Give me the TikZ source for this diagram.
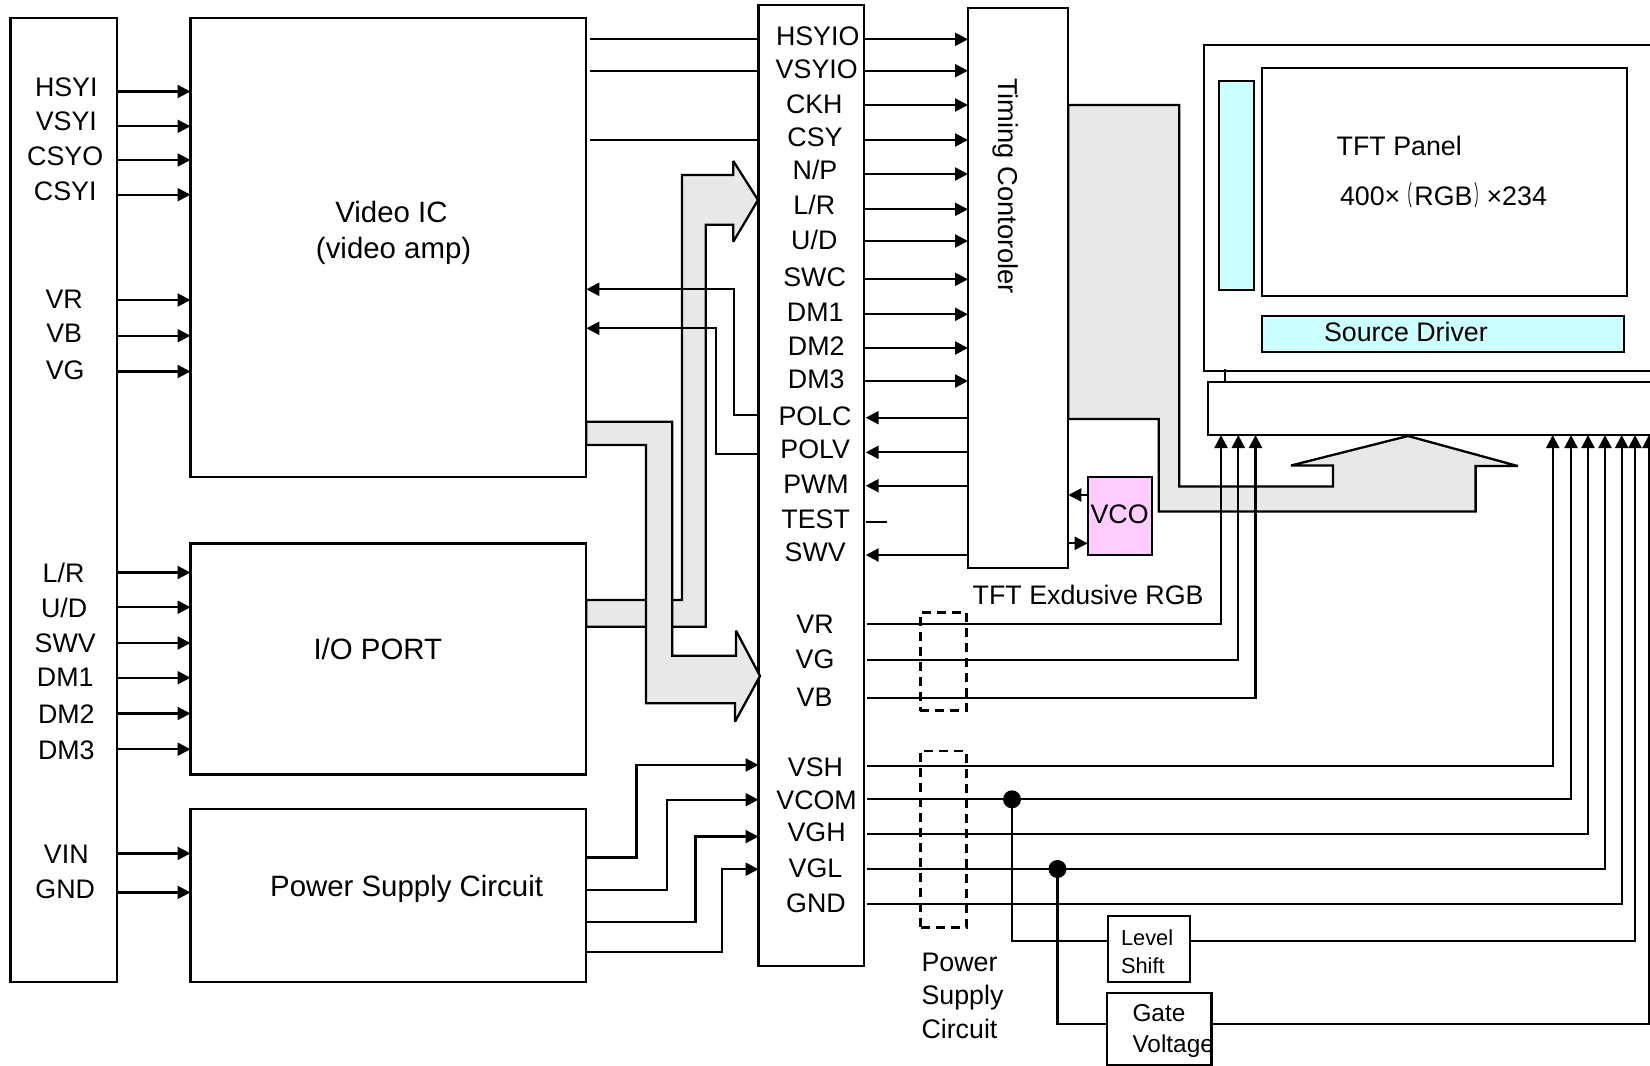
\documentclass[tikz,border=0pt]{standalone}
\usepackage{graphicx}
\usepackage{fontspec}
\setmainfont{Liberation Sans}
\newfontfamily\cjkfont{Noto Sans CJK SC}
\usetikzlibrary{arrows.meta}
\definecolor{grayarrow}{HTML}{E8E8E8}
\definecolor{cyanfill}{HTML}{CCFFFF}
\definecolor{pinkfill}{HTML}{FFCCFF}
\tikzset{
  line width=2.3pt,
  wire/.style={draw=black,line width=2.3pt},
  arr/.style={wire,-{Triangle[length=13pt,width=13pt]}},
  blockbox/.style={draw=black,fill=white,line width=2.3pt,inner sep=0pt,outer sep=0pt},
  dashbox/.style={draw=black,line width=2.5pt,inner sep=0pt,outer sep=0pt,dash pattern=on 9pt off 6pt},
  fat/.style={draw=black,fill=grayarrow,line width=2.3pt,line join=miter,miter limit=3},
  dotnode/.style={circle,fill=black,draw=none,minimum size=18pt,inner sep=0pt,outer sep=0pt},
  lbl/.style={inner sep=0pt,outer sep=0pt,font=\fontsize{26.8}{30}\selectfont,text height=19.1pt,text depth=0pt},
  biglbl/.style={inner sep=0pt,outer sep=0pt,font=\fontsize{29.4}{32}\selectfont,text height=21.2pt,text depth=0pt},
  midlbl/.style={inner sep=0pt,outer sep=0pt,font=\fontsize{24.4}{28}\selectfont,text height=17.5pt,text depth=0pt},
  smalllbl/.style={inner sep=0pt,outer sep=0pt,font=\fontsize{21.8}{26}\selectfont,text height=15.6pt,text depth=0pt},
}
\newcommand{\mkbox}[6]{%
  \pgfmathsetmacro\bw{#5-#3}\pgfmathsetmacro\bh{#6-#4}%
  \pgfmathsetmacro\bx{(#3+#5)/2}\pgfmathsetmacro\by{(#4+#6)/2}%
  \node[#1,minimum width=\bw pt,minimum height=\bh pt] (#2) at (\bx,\by) {};}
\newcommand{\lab}[4]{\node[lbl] (#1) at (#2,#3) {#4};}
\newcommand{\slimparen}[1]{\scalebox{0.45}[1]{\cjkfont #1}}
\begin{document}
\begin{tikzpicture}[x=1pt,y=-1pt]
\useasboundingbox (0,0) rectangle (1650,1066);
\fill[white] (0,0) rectangle (1650,1066);
\clip (0,0) rectangle (1650,1066);

% blocks
\mkbox{blockbox}{lbox}{10.5}{18}{117}{982}
\mkbox{blockbox}{vic}{190.5}{18}{586.3}{477}
\mkbox{blockbox}{iop}{190.5}{543.5}{586.3}{774.5}
\mkbox{blockbox}{psu}{190.5}{809}{586.3}{982}
\mkbox{blockbox}{mid}{758.5}{4.7}{863.7}{966}
\mkbox{blockbox}{tim}{968}{8.3}{1068.3}{568.3}
\mkbox{blockbox}{outer}{1204}{44.7}{1670}{371}
\mkbox{blockbox}{panel}{1261.7}{68.3}{1627.3}{295.7}
\mkbox{blockbox,fill=cyanfill}{gdrv}{1219.3}{81.3}{1253.7}{289.7}
\mkbox{blockbox,fill=cyanfill}{sdrv}{1261.7}{316}{1624.3}{351.7}
\mkbox{blockbox}{drv}{1207.7}{382.3}{1670}{435}
\mkbox{blockbox,fill=pinkfill}{vco}{1087.7}{477.3}{1152}{555.3}
\draw[wire] (outer.south -| 1225,0) -- ++(0,-2) (outer.south -| 1225,0) -- (drv.north -| 1225,0);

% wide grey arrows
\draw[fat] (iop.east |- 0,600) -- (682,600) -- (682,175) -- (733.3,175) -- (733.3,161) -- (758,200) -- (733.3,241.7) -- (733.3,224.7) -- (705.7,224.7) -- (705.7,626.7) -- (iop.east |- 0,626.7) -- cycle;
\draw[fat] (vic.east |- 0,421.7) -- (672.3,421.7) -- (672.3,655.7) -- (736,655.7) -- (736,630.7) -- (760,676) -- (735,721.7) -- (735,703.3) -- (646,703.3) -- (646,445) -- (vic.east |- 0,445) -- cycle;
\draw[fat] (tim.east |- 0,105) -- (1179.3,105) -- (1179.3,486.5) -- (1333,486.5) -- (1333,465.5) -- (1291,465.5) -- (1408,436) -- (1517.7,466) -- (1475.6,466) -- (1475.6,511.5) -- (1158.7,511.5) -- (1158.7,419) -- (tim.east |- 0,419) -- cycle;

% left connector inputs
\foreach \y in {91.5,126.3,160,194.7,300,335.7,371.5}
  \draw[arr] (lbox.east |- 0,\y) -- (vic.west |- 0,\y);
\foreach \y in {572.5,607.2,643,677.7,713.5,749.2}
  \draw[arr] (lbox.east |- 0,\y) -- (iop.west |- 0,\y);
\foreach \y in {853.4,892.4}
  \draw[arr] (lbox.east |- 0,\y) -- (psu.west |- 0,\y);

% video to centre
\foreach \y in {39.3,70.7,140}
  \draw[wire] ([xshift=4pt]vic.east |- 0,\y) -- (mid.west |- 0,\y);
\draw[arr] (mid.west |- 0,415.3) -- (734,415.3) -- (734,289.3) -- (vic.east |- 0,289.3);
\draw[arr] (mid.west |- 0,454) -- (715.7,454) -- (715.7,328.3) -- (vic.east |- 0,328.3);

% centre to timing
\foreach \y in {39.3,70.7,105,140,174,209.3,241,279.3,314.3,348,381}
  \draw[arr] (mid.east |- 0,\y) -- (tim.west |- 0,\y);
\foreach \y in {417.7,452.3,485.7,555}
  \draw[arr] (tim.west |- 0,\y) -- ([xshift=2pt]mid.east |- 0,\y);
\coordinate (testend) at (887,521.7);
\draw[wire] ([xshift=2pt]mid.east |- testend) -- (testend);

% VCO
\draw[arr] (vco.west |- 0,495) -- (tim.east |- 0,495);
\draw[arr] (tim.east |- 0,543.3) -- (vco.west |- 0,543.3);

% power supply to centre
\draw[arr] (psu.east |- 0,857.6) -- (636.6,857.6) -- (636.6,765) -- (mid.west |- 0,765);
\draw[arr] (psu.east |- 0,890) -- (667,890) -- (667,799.7) -- (mid.west |- 0,799.7);
\draw[arr] (psu.east |- 0,921.8) -- (695.6,921.8) -- (695.6,836.6) -- (mid.west |- 0,836.6);
\draw[arr] (psu.east |- 0,952.3) -- (722,952.3) -- (722,869.2) -- (mid.west |- 0,869.2);

% RGB lines
\draw[arr] ([xshift=3pt]mid.east |- 0,624.3) -- (1221,624.3) -- (drv.south -| 1221,0);
\draw[arr] ([xshift=3pt]mid.east |- 0,659.7) -- (1238.3,659.7) -- (drv.south -| 1238.3,0);
\draw[arr] ([xshift=3pt]mid.east |- 0,698.3) -- (1255.5,698.3) -- (drv.south -| 1255.5,0);

% supply lines
\draw[arr] ([xshift=3pt]mid.east |- 0,766) -- (1552.7,766) -- (drv.south -| 1552.7,0);
\draw[arr] ([xshift=3pt]mid.east |- 0,799.3) -- (1571,799.3) -- (drv.south -| 1571,0);
\draw[arr] ([xshift=3pt]mid.east |- 0,834.3) -- (1588,834.3) -- (drv.south -| 1588,0);
\draw[arr] ([xshift=3pt]mid.east |- 0,869) -- (1605,869) -- (drv.south -| 1605,0);
\draw[arr] ([xshift=3pt]mid.east |- 0,903.7) -- (1621.7,903.7) -- (drv.south -| 1621.7,0);

% level shift and gate voltage
\node[dotnode] (dota) at (1012,799.3) {};
\node[dotnode] (dotb) at (1057.5,869) {};
\mkbox{blockbox}{lvl}{1107.9}{915.7}{1190}{981.7}
\mkbox{blockbox}{gate}{1106.9}{993.3}{1211.6}{1065}
\draw[wire] (dota.center) -- (1012,940.7) -- (lvl.west |- 0,940.7);
\draw[wire] (dotb.center) -- (1057.5,1024) -- (gate.west |- 0,1024);
\draw[arr] (lvl.east |- 0,940.7) -- (1635,940.7) -- (drv.south -| 1635,0);
\draw[arr] (gate.east |- 0,1024) -- (1649,1024) -- (drv.south -| 1649,0);

% dashed regions
\mkbox{dashbox}{dasha}{920.3}{612.7}{966.7}{710.7}
\mkbox{dashbox}{dashb}{920.5}{751}{966.3}{927.3}

% left labels
\lab{l1}{66.3}{87.3}{HSYI}
\lab{l2}{66.3}{121}{VSYI}
\lab{l3}{65.2}{155.7}{CSYO}
\lab{l4}{65.2}{190.5}{CSYI}
\lab{l5}{64.2}{298.9}{VR}
\lab{l6}{64.2}{332.5}{VB}
\lab{l7}{65.2}{370}{VG}
\lab{l8}{63.6}{572.5}{L/R}
\lab{l9}{64.2}{607.7}{U/D}
\lab{l10}{65.2}{643}{SWV}
\lab{l11}{65.2}{676.6}{DM1}
\lab{l12}{66.3}{713.5}{DM2}
\lab{l13}{66.3}{749.6}{DM3}
\lab{l14}{66.3}{853.8}{VIN}
\lab{l15}{65.2}{889.2}{GND}

% block labels
\node[biglbl] (tvideo) at (391.5,211.5) {Video IC};
\node[biglbl] (tamp) at (393.6,248.3) {(video amp)};
\node[biglbl] (tio) at (377.8,649.3) {I/O PORT};
\node[biglbl] (tpsu) at (406.6,886) {Power Supply Circuit};

% centre labels
\begin{scope}[yshift=-0.8pt]
\lab{m1}{817.7}{35}{HSYIO}
\lab{m2}{816.7}{68.3}{VSYIO}
\lab{m3}{814.3}{103.3}{CKH}
\lab{m4}{815}{136}{CSY}
\lab{m5}{815}{169.3}{N/P}
\lab{m6}{814.3}{204}{L/R}
\lab{m7}{814.3}{239.3}{U/D}
\lab{m8}{814.6}{275.7}{SWC}
\lab{m9}{815.2}{311}{DM1}
\lab{m10}{816.2}{345}{DM2}
\lab{m11}{816.2}{378.3}{DM3}
\lab{m12}{815}{415}{POLC}
\lab{m13}{815.2}{448.3}{POLV}
\lab{m14}{816}{483.3}{PWM}
\lab{m15}{815.7}{517.7}{TEST}
\lab{m16}{815.2}{551}{SWV}
\lab{m17}{815}{623.3}{VR}
\lab{m18}{815}{658.3}{VG}
\lab{m19}{814.5}{696}{VB}
\end{scope}
\lab{m20}{815.5}{767}{VSH}
\lab{m21}{816.6}{800}{VCOM}
\lab{m22}{816.6}{832.4}{VGH}
\lab{m23}{815.5}{868}{VGL}
\lab{m24}{816}{903}{GND}

% other labels
\node[lbl,rotate=-90,font=\fontsize{27.3}{30}\selectfont] (ttim) at (1008.5,186) {Timing Contoroler};
\lab{tvco}{1119.6}{514}{VCO}
\node[lbl,anchor=west] (trgb) at (972.7,595) {TFT Exdusive RGB};
\node[lbl,anchor=west] (tpanel) at (1336.7,145.7) {TFT Panel};
\node[lbl,anchor=west] (tres) at (1340,195.7) {400×\slimparen{（}\hspace{2pt}RGB\hspace{2pt}\slimparen{）}×234};
\node[lbl,anchor=west] (tsrc) at (1324,331.7) {Source Driver};
\node[lbl,anchor=west] (tps1) at (921.5,962) {Power};
\node[lbl,anchor=west] (tps2) at (921.5,995) {Supply};
\node[lbl,anchor=west] (tps3) at (921.5,1028.5) {Circuit};
\node[smalllbl,anchor=west] (tlv1) at (1121,937.2) {Level};
\node[smalllbl,anchor=west] (tlv2) at (1121,965.5) {Shift};
\node[midlbl,anchor=west] (tgt1) at (1132.5,1012.7) {Gate};
\node[midlbl,anchor=west] (tgt2) at (1132.5,1044) {Voltage};
\end{tikzpicture}
\end{document}
